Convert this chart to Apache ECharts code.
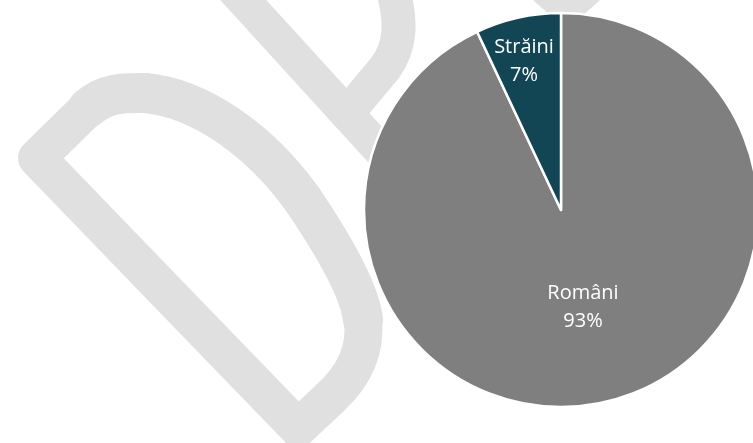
<!DOCTYPE html>
<html>
<head>
<meta charset="utf-8">
<script src="https://cdn.jsdelivr.net/npm/echarts@6/dist/echarts.min.js"></script>
<style>
html,body{margin:0;padding:0;background:#fff;}
#c{width:753px;height:443px;}
</style>
</head>
<body>
<div id="c"></div>
<script>
const categories = ['Români', 'Străini'];
const values = [93, 7];
const percentLabels = ['93%', '7%'];
const colors = ['#7F7F7F', '#134654'];

const chart = echarts.init(document.getElementById('c'), null, {renderer: 'canvas'});
const wm = '#E0E0E0';
const labelPos = [[583, 307], [524, 61]];

function seg(pts, w) {
  return { type: 'polyline', z: 0, silent: true,
    shape: { points: pts },
    style: { fill: null, stroke: wm, lineWidth: w, lineCap: 'round', lineJoin: 'round' } };
}
function bez(a, c1, c2, b, w) {
  return { type: 'bezierCurve', z: 0, silent: true,
    shape: { x1: a[0], y1: a[1], cpx1: c1[0], cpy1: c1[1], cpx2: c2[0], cpy2: c2[1], x2: b[0], y2: b[1] },
    style: { fill: null, stroke: wm, lineWidth: w, lineCap: 'round' } };
}

const option = {
  backgroundColor: '#ffffff',
  animation: false,
  graphic: [
    { type: 'polyline', z: 0, silent: true,
      shape: { points: [[330, 398], [298, 428], [150, 275]] },
      style: { fill: null, stroke: wm, lineWidth: 38, lineCap: 'butt', lineJoin: 'miter' } },
    seg([[150, 275], [37, 158], [88, 108]], 38),
    bez([88, 108], [106, 92], [125, 93], [145, 93], 40),
    bez([145, 93], [200, 98], [260, 140], [303, 200], 40),
    bez([303, 200], [330, 240], [360, 290], [363, 320], 40),
    bez([363, 320], [366, 350], [355, 375], [330, 398], 38),
    seg([[225, -20], [380, 150]], 34),
    bez([393, -10], [401, 20], [402, 45], [385, 68], 34),
    seg([[385, 68], [350, 110]], 34),
    { type: 'polygon', z: 0, silent: true,
      shape: { points: [[533, 0], [553, 18], [580, 18], [600, 0]] },
      style: { fill: wm } }
  ],
  series: [{
    type: 'pie',
    z: 5,
    center: [561, 210],
    radius: 197,
    startAngle: 90,
    clockwise: true,
    avoidLabelOverlap: false,
    itemStyle: { borderColor: '#ffffff', borderWidth: 2.5 },
    label: {
      show: true,
      position: 'inside',
      color: '#ffffff',
      fontFamily: 'Open Sans',
      fontSize: 20,
      lineHeight: 28,
      formatter: p => p.name + '\n' + percentLabels[p.dataIndex]
    },
    labelLine: { show: false },
    labelLayout: p => ({ x: labelPos[p.dataIndex][0], y: labelPos[p.dataIndex][1], align: 'center', verticalAlign: 'middle' }),
    emphasis: { disabled: true },
    data: categories.map((n, i) => ({ name: n, value: values[i], itemStyle: { color: colors[i] } }))
  }]
};
chart.setOption(option);
</script>
</body>
</html>
